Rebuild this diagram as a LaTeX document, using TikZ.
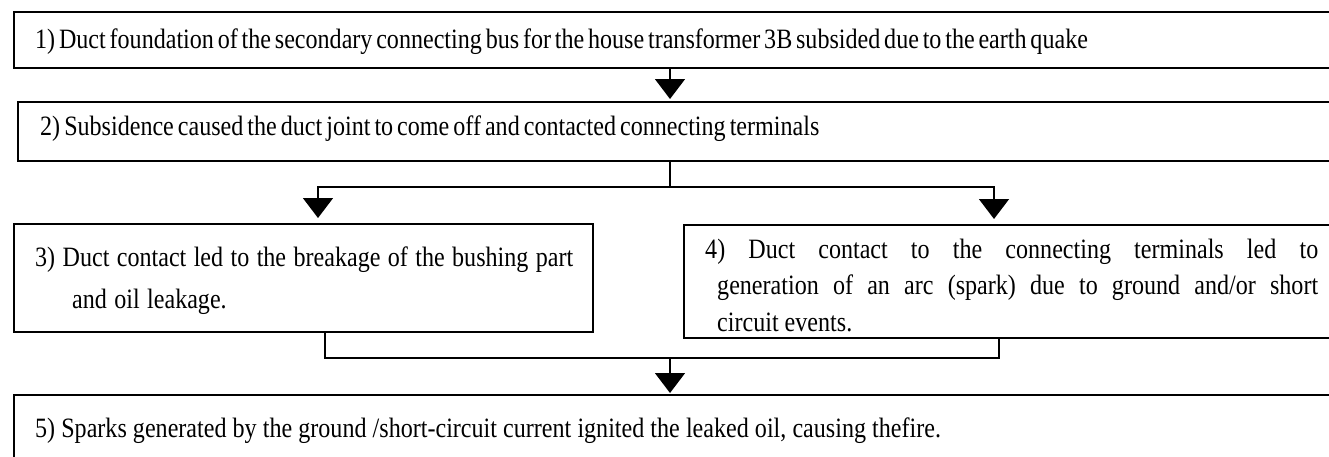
\documentclass[tikz,border=0pt]{standalone}
\usepackage{fontspec}
\setmainfont{Liberation Serif}[FakeStretch=0.86,WordSpace=0.6]
\usetikzlibrary{arrows.meta}
\newcommand\wsp[1]{\spaceskip=#1pt plus 1pt minus 0.5pt\relax}
\begin{document}
\begin{tikzpicture}[x=1pt,y=-1pt,
  box/.style={draw, line width=1.6pt, rectangle, inner sep=0pt, anchor=north west},
  txt/.style={anchor=base west, inner sep=0pt, font=\fontsize{28}{32}\selectfont},
  conn/.style={line width=1.5pt},
  arr/.style={conn, -{Triangle[width=30pt,length=20pt]}}]
\useasboundingbox (0,0) rectangle (1329,456);
% boxes
\node[box, minimum width=1340pt, minimum height=56pt] (b1) at (13,11) {};
\node[box, minimum width=1340pt, minimum height=59pt] (b2) at (17,101) {};
\node[box, minimum width=579pt, minimum height=108pt] (b3) at (13,223) {};
\node[box, minimum width=700pt, minimum height=113pt] (b4) at (683,224) {};
\node[box, minimum width=1340pt, minimum height=80pt] (b5) at (13,394) {};
% texts
\node[txt] (t1) at (35,48) {\wsp{3.8}1) Duct foundation of the secondary connecting bus for the house transformer 3B subsided due to the earth quake};
\node[txt] (t2) at (40,135) {\wsp{4.0}2) Subsidence caused the duct joint to come off and contacted connecting terminals};
\node[txt] (t3a) at (35,266) {\wsp{7.4}3) Duct contact led to the breakage of the bushing part};
\node[txt] (t3b) at (72,308) {\wsp{7.4}and oil leakage.};
\node[txt] (t4a) at (705,258) {\makebox[613pt][s]{4) Duct contact to the\ connecting terminals led to}};
\node[txt] (t4b) at (717,294) {\makebox[601pt][s]{generation of an\ arc (spark) due to ground and/or\ short}};
\node[txt] (t4c) at (717,331) {\wsp{6}circuit events.};
\node[txt] (t5) at (35,437) {\wsp{6.1}5) Sparks generated by the ground /short-circuit current ignited the leaked oil, causing thefire.};
% connectors
\coordinate (m) at (670,0);
\coordinate (x3) at (318,0);
\coordinate (x4) at (994,0);
\coordinate (x3b) at (325,0);
\coordinate (x4b) at (999,0);
\coordinate (j) at (670,187);
\coordinate (k) at (670,358);
\draw[arr, shorten >=2pt] (b1.south -| m) -- (b2.north -| m);
\draw[conn] (b2.south -| m) -- (j);
\draw[arr, shorten >=5pt] (j) -| (b3.north -| x3);
\draw[arr, shorten >=5pt] (j) -| (b4.north -| x4);
\draw[conn] (b3.south -| x3b) |- (k);
\draw[conn] (b4.south -| x4b) |- (k);
\draw[arr, shorten >=1pt] (k) -- (b5.north -| m);
\end{tikzpicture}
\end{document}
